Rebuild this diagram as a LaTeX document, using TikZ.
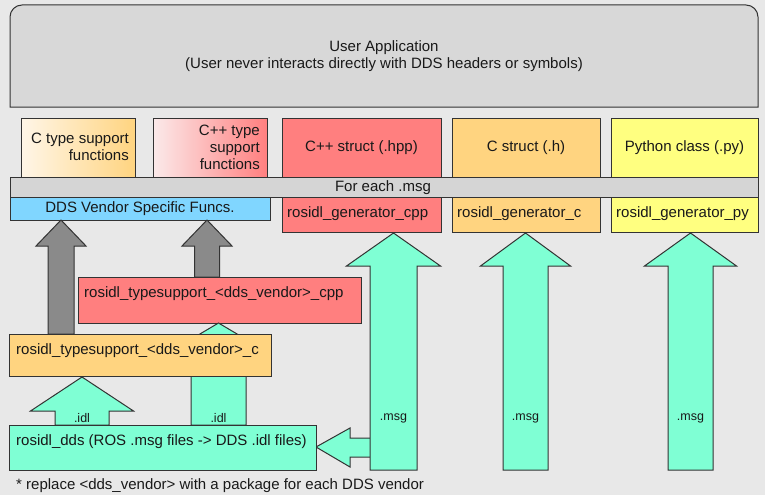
\documentclass[tikz,border=0pt]{standalone}
\usepackage{fontspec}
\setmainfont{Liberation Sans}
\definecolor{bg}{HTML}{E8E8E8}
\definecolor{appgray}{HTML}{D8D8D8}
\definecolor{bargray}{HTML}{D5D5D5}
\definecolor{edge}{HTML}{333333}
\definecolor{myred}{HTML}{FF7F7F}
\definecolor{myorange}{HTML}{FFD480}
\definecolor{myyellow}{HTML}{FFFF80}
\definecolor{myblue}{HTML}{80D6FF}
\definecolor{myteal}{HTML}{7FFFD4}
\definecolor{mygray}{HTML}{8A8A8A}
\definecolor{cream}{HTML}{FFF6E8}
\definecolor{pinklight}{HTML}{FBEAEA}
\tikzset{
  boxst/.style={draw=edge, line width=1pt},
  lbl/.style={font=\fontsize{15}{17}\selectfont, inner sep=0pt, text=black!90},
  small/.style={font=\fontsize{12.5}{15}\selectfont, inner sep=0pt, text=black!90},
}
\newcommand\uarrow[7]{%
  \draw[boxst, fill=#7] ({#1-#6},#4) -- ({#1-#6},#3) -- ({#1-#5},#3) -- (#1,#2) -- ({#1+#5},#3) -- ({#1+#6},#3) -- ({#1+#6},#4) -- cycle;}
\begin{document}
\begin{tikzpicture}[x=1pt,y=-1pt]
\fill[bg] (0,0) rectangle (765,495);
\useasboundingbox (0,0) rectangle (765,495);
% user application
\draw[boxst, fill=appgray] (10,107) -- (10,50) [rounded corners=12pt] -- (10,5) -- (758,5) -- (758,50) [sharp corners] -- (758,107) -- cycle;
\node[lbl, align=center] (app) at (384,56) {User Application\\(User never interacts directly with DDS headers or symbols)};
% top boxes
\draw[boxst, left color=cream, right color=myorange] (21,118) rectangle (135,180);
\draw[boxst, left color=pinklight, right color=myred] (153,118) rectangle (267,180);
\draw[boxst, fill=myred] (282,118) rectangle (441,180);
\draw[boxst, fill=myorange] (452,118) rectangle (600,180);
\draw[boxst, fill=myyellow] (611,118) rectangle (758,180);
\node[lbl, align=right, anchor=east] (ctype) at (129,147) {C type support\\functions};
\node[lbl, align=right, anchor=east] (cpptype) at (260,147) {C++ type\\support\\functions};
\node[lbl] (cppstruct) at (361.5,148) {C++ struct (.hpp)};
\node[lbl] (cstruct) at (526,148) {C struct (.h)};
\node[lbl] (pyclass) at (684.5,148) {Python class (.py)};
% bar
\draw[boxst, fill=bargray] (10,177) rectangle (758,197);
\node[lbl] (foreach) at (383,187.5) {For each .msg};
% vendor + generators
\draw[boxst, fill=myblue] (10,197) rectangle (270,220);
\node[lbl] (vendor) at (140,209) {DDS Vendor Specific Funcs.};
\draw[boxst, fill=myred] (282,197) rectangle (441,232);
\draw[boxst, fill=myorange] (452,197) rectangle (600,232);
\draw[boxst, fill=myyellow] (611,197) rectangle (758,232);
\node[lbl, anchor=west] (gencpp) at (287,214) {rosidl\_generator\_cpp};
\node[lbl, anchor=west] (genc) at (457,214) {rosidl\_generator\_c};
\node[lbl, anchor=west] (genpy) at (616,214) {rosidl\_generator\_py};
% gray arrows
\uarrow{61}{220}{246}{334}{25}{13}{mygray}
\uarrow{207}{220}{246}{277}{25}{12.5}{mygray}
% typesupport cpp
\draw[boxst, fill=myred] (78,277) rectangle (361,323);
\node[lbl, anchor=west] (tscpp) at (84,294) {rosidl\_typesupport\_<dds\_vendor>\_cpp};
% teal middle arrow
\uarrow{218.5}{323}{352}{425}{49}{27.5}{myteal}
% typesupport c
\draw[boxst, fill=myorange] (9,334) rectangle (271,376);
\node[lbl, anchor=west] (tsc) at (16,351) {rosidl\_typesupport\_<dds\_vendor>\_c};
% teal left arrow
\uarrow{82}{377}{411}{425}{51.5}{27}{myteal}
% left-pointing arrow
\draw[boxst, fill=myteal] (372,438) -- (350,438) -- (350,428) -- (316,447) -- (350,467) -- (350,457) -- (372,457) -- cycle;
% msg arrows
\uarrow{393.5}{233}{266}{470}{47}{23.5}{myteal}
\uarrow{525.5}{233}{266}{470}{45}{22.5}{myteal}
\uarrow{690.5}{233}{266}{470}{46}{22.5}{myteal}
% rosidl_dds
\draw[boxst, fill=myteal] (9,425) rectangle (316,470);
\node[lbl, anchor=west] (dds) at (16,442) {rosidl\_dds (ROS .msg files -> DDS .idl files)};
% small labels
\node[small] (idl1) at (82,418) {.idl};
\node[small] (idl2) at (218.5,418) {.idl};
\node[small] (msg1) at (393.5,418) {.msg};
\node[small] (msg2) at (525.5,418) {.msg};
\node[small] (msg3) at (690.5,418) {.msg};
% footnote
\node[lbl, anchor=west] (note) at (16,486) {* replace <dds\_vendor> with a package for each DDS vendor};
\end{tikzpicture}
\end{document}
